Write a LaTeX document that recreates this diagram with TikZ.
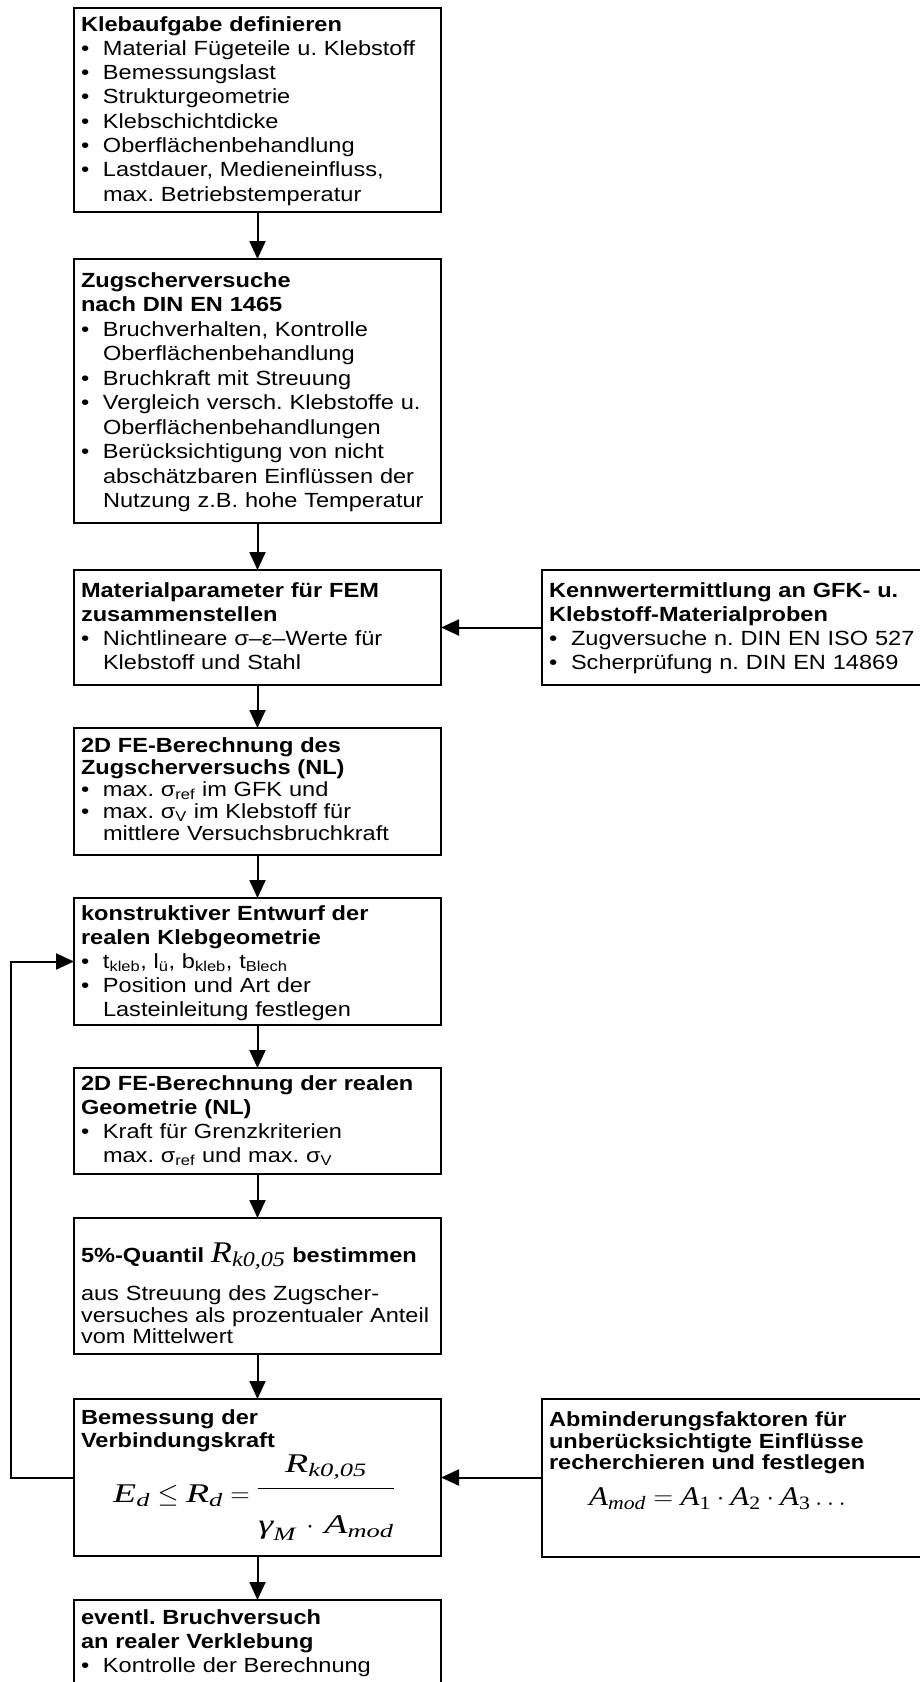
\RequirePackage{fix-cm}
\documentclass[tikz,border=0pt]{standalone}
\usepackage{amsmath}
\usepackage{fontspec}
\setmainfont{Liberation Sans}[FakeStretch=1.15]
\newfontfamily\tnr{Liberation Serif}[FakeStretch=1.15]
\newfontfamily\tnrw{Liberation Serif}[FakeStretch=1.4]
\usetikzlibrary{arrows.meta,positioning,calc}

\hyphenpenalty=10000
\exhyphenpenalty=10000
\frenchspacing
\newcommand{\bitem}{\par\hangindent=22pt\hangafter=1\noindent\makebox[22pt][l]{\textbullet}}
\newcommand{\mi}[1]{\text{\tnr\mdseries\itshape #1}}
\newcommand{\miw}[1]{\text{\tnrw\mdseries\itshape #1}}
\newcommand{\mr}[1]{\text{\tnr\mdseries\upshape #1}}
\newcommand{\ts}[1]{\textsubscript{#1}}

\begin{document}
\begin{tikzpicture}[x=1pt, y=-1pt,
    >={Triangle[length=18pt,width=16pt]},
    box/.style n args={3}{draw, line width=2pt, outer sep=0pt, anchor=north west,
      text width=353pt, inner xsep=7pt, inner ysep=0pt, align=left,
      text height=#1, text depth=#2, font=\fontsize{20.5}{#3}\selectfont},
    side/.style={text width=380pt},
    flow/.style={->, line width=2pt}
  ]
  \useasboundingbox (0,0) rectangle (920,1682);
  % main column
  \node[box={23pt}{181pt}{24.3}] (b1) at (74,8)
    {\textbf{Klebaufgabe definieren}
     \bitem Material Fügeteile u. Klebstoff
     \bitem Bemessungslast
     \bitem Strukturgeometrie
     \bitem Klebschichtdicke
     \bitem Oberflächenbehandlung
     \bitem Lastdauer, Medieneinfluss,\newline max. Betriebstemperatur\par};
  \node[box={28pt}{236pt}{24.5}, below=47pt of b1] (b2)
    {\textbf{Zugscherversuche\\nach DIN EN 1465}
     \bitem Bruchverhalten, Kontrolle\newline Oberflächenbehandlung
     \bitem Bruchkraft mit Streuung
     \bitem Vergleich versch. Klebstoffe u.\newline Oberflächenbehandlungen
     \bitem Berücksichtigung von nicht\newline abschätzbaren Einflüssen der\newline Nutzung z.B. hohe Temperatur\par};
  \node[box={27pt}{88pt}{24}, below=47pt of b2] (b3)
    {\textbf{Materialparameter für FEM\\zusammenstellen}
     \bitem Nichtlineare σ–ε–Werte für\newline Klebstoff und Stahl\par};
  \node[box={24pt}{103pt}{22}, below=43pt of b3] (b4)
    {\textbf{2D FE-Berechnung des\\Zugscherversuchs (NL)}
     \bitem max. σ\ts{ref} im GFK und
     \bitem max. σ\ts{V} im Klebstoff für\newline mittlere Versuchsbruchkraft\par};
  \node[box={22pt}{105pt}{24}, below=43pt of b4] (b5)
    {\textbf{konstruktiver Entwurf der\\realen Klebgeometrie}
     \bitem t\ts{kleb}, l\ts{ü}, b\ts{kleb}, t\ts{Blech}
     \bitem Position und Art der\newline Lasteinleitung festlegen\par};
  \node[box={22pt}{84pt}{24}, below=43pt of b5] (b6)
    {\textbf{2D FE-Berechnung der realen\\Geometrie (NL)}
     \bitem Kraft für Grenzkriterien\newline max. σ\ts{ref} und max. σ\ts{V}\par};
  \node[box={44pt}{92pt}{21.5}, below=44pt of b6] (b7)
    {\textbf{5\%-Quantil {\fontsize{30}{21}\selectfont$\mi{R}_{\mi{k0,05}}$} bestimmen}\par
     \vspace{15pt}
     aus Streuung des Zugscher-\newline versuches als prozentualer Anteil\newline vom Mittelwert\par};
  \node[box={25pt}{132pt}{23}, below=45pt of b7] (b8)
    {\textbf{Bemessung der\\Verbindungskraft}\par};
  \node[anchor=base west, inner sep=0pt, font=\fontsize{27}{30}\selectfont] (f8)
    at ($(b8.north west)+(39,103)$)
    {$\miw{E}_{\miw{d}} \le \miw{R}_{\miw{d}} = \raisebox{7.25pt}{$\displaystyle
      \frac{\miw{R}_{\miw{k0,05}}\rule[-12pt]{0pt}{12pt}}{\rule{0pt}{42pt}\miw{γ}_{\miw{M}}\,\cdot\,\miw{A}_{\miw{mod}}}$}$};
  \node[box={24pt}{90pt}{24}, below=44pt of b8] (b9)
    {\textbf{eventl. Bruchversuch\\an realer Verklebung}
     \bitem Kontrolle der Berechnung\par};
  % side inputs
  \node[box={27pt}{88pt}{24}, side, right=101pt of b3] (r1)
    {\textbf{Kennwertermittlung an GFK- u.\\Klebstoff-Materialproben}
     \bitem Zugversuche n. DIN EN ISO 527
     \bitem Scherprüfung n. DIN EN 14869\par};
  \node[box={28pt}{130pt}{21.7}, side, right=101pt of b8] (r2)
    {\textbf{Abminderungsfaktoren für\\unberücksichtigte Einflüsse\\recherchieren und festlegen}\par};
  \node[anchor=base west, inner sep=0pt, font=\fontsize{27}{30}\selectfont] (fr2)
    at ($(r2.north west)+(47,107)$)
    {$\mi{A}_{\mi{mod}} = \mi{A}_{\mr{1}}\cdot\mi{A}_{\mr{2}}\cdot\mi{A}_{\mr{3}}\ldots$};
  % connectors
  \draw[flow] (b1) -- (b2);
  \draw[flow] (b2) -- (b3);
  \draw[flow] (b3) -- (b4);
  \draw[flow] (b4) -- (b5);
  \draw[flow] (b5) -- (b6);
  \draw[flow] (b6) -- (b7);
  \draw[flow] (b7) -- (b8);
  \draw[flow] (b8) -- (b9);
  \draw[flow] (r1) -- (b3);
  \draw[flow] (r2) -- (b8);
  \draw[flow] (b8.west) -- ++(-63,0) |- (b5.west);
\end{tikzpicture}
\end{document}
